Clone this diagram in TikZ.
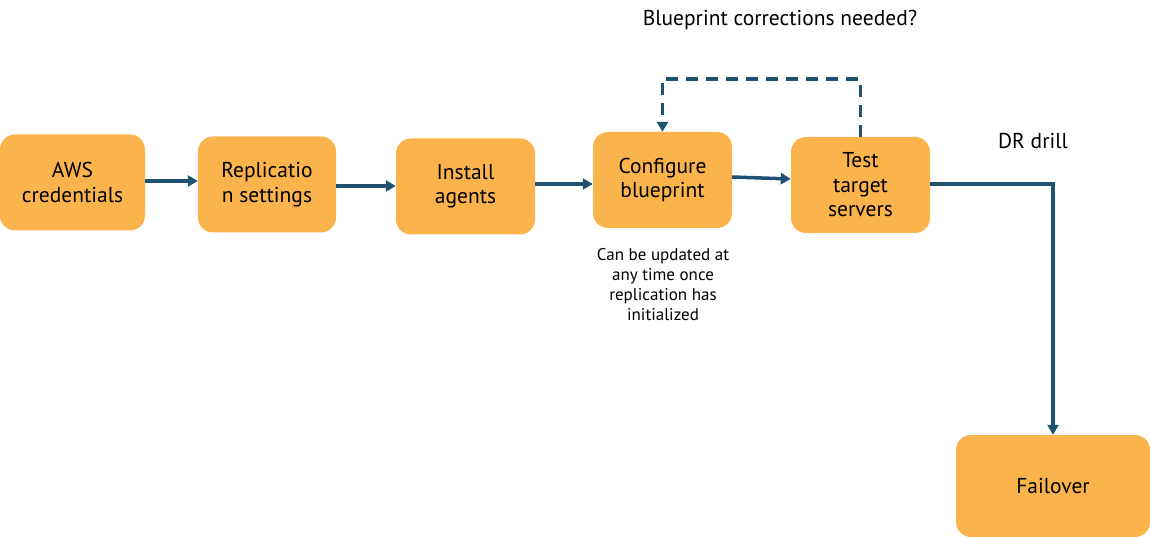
\documentclass[tikz,border=0pt]{standalone}
\usepackage{fontspec}
\setmainfont{PT Sans}
\usetikzlibrary{arrows.meta}
\definecolor{boxfill}{RGB}{251,179,76}
\definecolor{arrowc}{RGB}{31,82,112}
\tikzset{
  x=1pt, y=-1pt,
  stepbox/.style={fill=boxfill, draw=none, rounded corners=15pt, align=center,
    font=\fontsize{21.5}{24.5}\selectfont, inner sep=0pt, minimum width=139pt, minimum height=96pt},
  flow/.style={draw=arrowc, line width=3.5pt, -{Triangle[length=10pt,width=11pt]}},
  flowdash/.style={flow, dash pattern=on 12pt off 8pt},
  lbl/.style={font=\fontsize{21.5}{24}\selectfont, inner sep=0pt},
  note/.style={font=\fontsize{17}{20}\selectfont, align=center, inner sep=0pt}
}
\begin{document}
\begin{tikzpicture}
\useasboundingbox (0,0) rectangle (1150,537);
% boxes
\node[stepbox, minimum width=145pt] (aws) at (72.5,182.5) {AWS\\credentials};
\node[stepbox, minimum width=138pt] (rep) at (267,184.5) {Replicatio\\n settings};
\node[stepbox] (ins) at (465.5,186.5) {Install\\agents};
\node[stepbox] (cfg) at (662.5,180) {Configure\\blueprint};
\node[stepbox] (tst) at (860.5,185) {Test\\target\\servers};
\node[stepbox, minimum width=194pt, minimum height=102pt] (fail) at (1053,486) {Failover};
% connectors
\draw[flow] (aws.east |- 0,181) -- (rep.west |- 0,181);
\draw[flow] (rep.east |- 0,186) -- (ins.west |- 0,186);
\draw[flow] (ins.east |- 0,184) -- (cfg.west |- 0,184);
\draw[flow] (cfg.east |- 0,177) -- (tst.west |- 0,179);
\draw[flow] (tst.east |- 0,184) -- (fail.north |- 0,184) -- (fail.north);
\draw[flowdash] (tst.north) -- (tst.north |- 0,79) -- (cfg.north |- 0,79) -- (cfg.north);
% labels
\node[lbl] (bp) at (780,20) {Blueprint corrections needed?};
\node[lbl] (dr) at (1033,141) {DR drill};
\node[note] (nt) at (663,285) {Can be updated at\\any time once\\replication has\\initialized};
\end{tikzpicture}
\end{document}
